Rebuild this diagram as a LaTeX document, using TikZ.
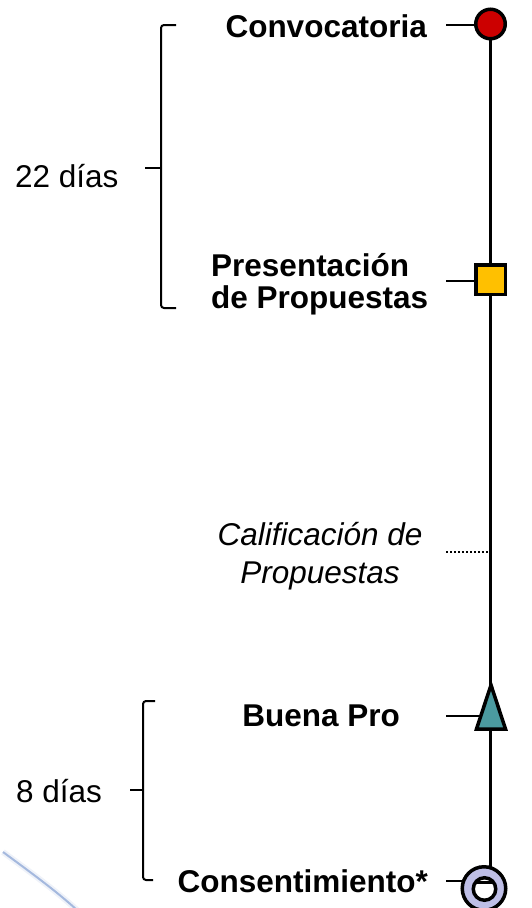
\documentclass[tikz,border=0pt]{standalone}
\usepackage{fontspec}
\setmainfont{Liberation Sans}
\definecolor{mred}{RGB}{204,0,0}
\definecolor{myellow}{RGB}{255,192,0}
\definecolor{mteal}{RGB}{75,155,160}
\definecolor{mlav}{RGB}{190,190,230}
\definecolor{swoosh}{RGB}{120,150,205}
\begin{document}
\begin{tikzpicture}[x=1pt,y=-1pt,
  lbl/.style={inner sep=0pt, font=\fontsize{31.5}{32}\selectfont},
  blbl/.style={lbl, font=\fontsize{31.5}{32}\selectfont\bfseries},
  ilbl/.style={lbl, font=\fontsize{31.5}{38}\selectfont\itshape},
  mline/.style={line width=2.5pt},
  marker/.style={draw, line width=3.5pt, inner sep=0pt},
  brk/.style={line width=2pt, rounded corners=3pt}]
\useasboundingbox (0,0) rectangle (532,908);
\clip (0,0) rectangle (532,908);
% background swoosh
\draw[swoosh!30, line width=6pt, opacity=0.4] (3,852) .. controls (30,872) and (55,890) .. (77,910);
\draw[swoosh!80, line width=2pt, opacity=0.8] (3,852) .. controls (30,872) and (55,890) .. (77,910);
% labels
\node[blbl, anchor=base east] (conv) at (427,37) {Convocatoria};
\node[blbl, anchor=base west, align=left] (pres) at (211,308) {Presentación\\de Propuestas};
\node[ilbl, anchor=base, align=center] (calif) at (320,583) {Calificación de\\Propuestas};
\node[blbl, anchor=base east] (buena) at (400,726) {Buena Pro};
\node[blbl, anchor=base east] (cons) at (428,892) {Consentimiento*};
\node[lbl, anchor=base west] (d22) at (15,187) {22 días};
\node[lbl, anchor=base west] (d8) at (16,802) {8 días};
% brackets
\coordinate (b1t) at (176,25);
\coordinate (b1m) at (145,168);
\coordinate (b1b) at (176,308);
\draw[brk] (b1t) -- (161,25) -- (161,308) -- (b1b);
\draw[line width=2pt] (161,168) -- (b1m);
\coordinate (b2t) at (155,701);
\coordinate (b2m) at (130,790);
\coordinate (b2b) at (153,880);
\draw[brk] (b2t) -- (143,701) -- (143,880) -- (b2b);
\draw[line width=2pt] (143,790) -- (b2m);
% main timeline
\coordinate (top) at (490.5,24);
\coordinate (bot) at (490.5,867);
\draw[mline] (top) -- (bot);
% stubs
\coordinate (s1) at (446,25);
\coordinate (s2) at (446,281);
\coordinate (s3) at (446,552);
\coordinate (s3e) at (490,552);
\coordinate (s4) at (446,716);
\coordinate (s5) at (446,881);
\draw[mline] (s1) -- (480,25);
\draw[mline] (s2) -- (480,281);
\draw[line width=2pt, dash pattern=on 2pt off 2pt] (s3) -- (s3e);
\draw[mline] (s4) -- (485,716);
\draw[mline] (s5) -- (470,881);
% markers
\node[marker, circle, fill=mred, minimum size=29.5pt] (m1) at (490.5,24) {};
\node[marker, rectangle, fill=myellow, minimum size=29.5pt] (m2) at (490.5,279.5) {};
\draw[line width=3.5pt, fill=mteal, line join=miter] (491,685) -- (505.5,729) -- (476.5,729) -- cycle;
\node[marker, circle, fill=mlav, minimum size=43.5pt] (m5) at (484,888.5) {};
\node[marker, circle, fill=white, minimum size=22.5pt] (m5i) at (484.5,889) {};
\begin{scope}
  \clip (484.5,889) circle (11.25pt);
  \draw[line width=3pt] (470,882) -- (500,882);
\end{scope}
\end{tikzpicture}
\end{document}
